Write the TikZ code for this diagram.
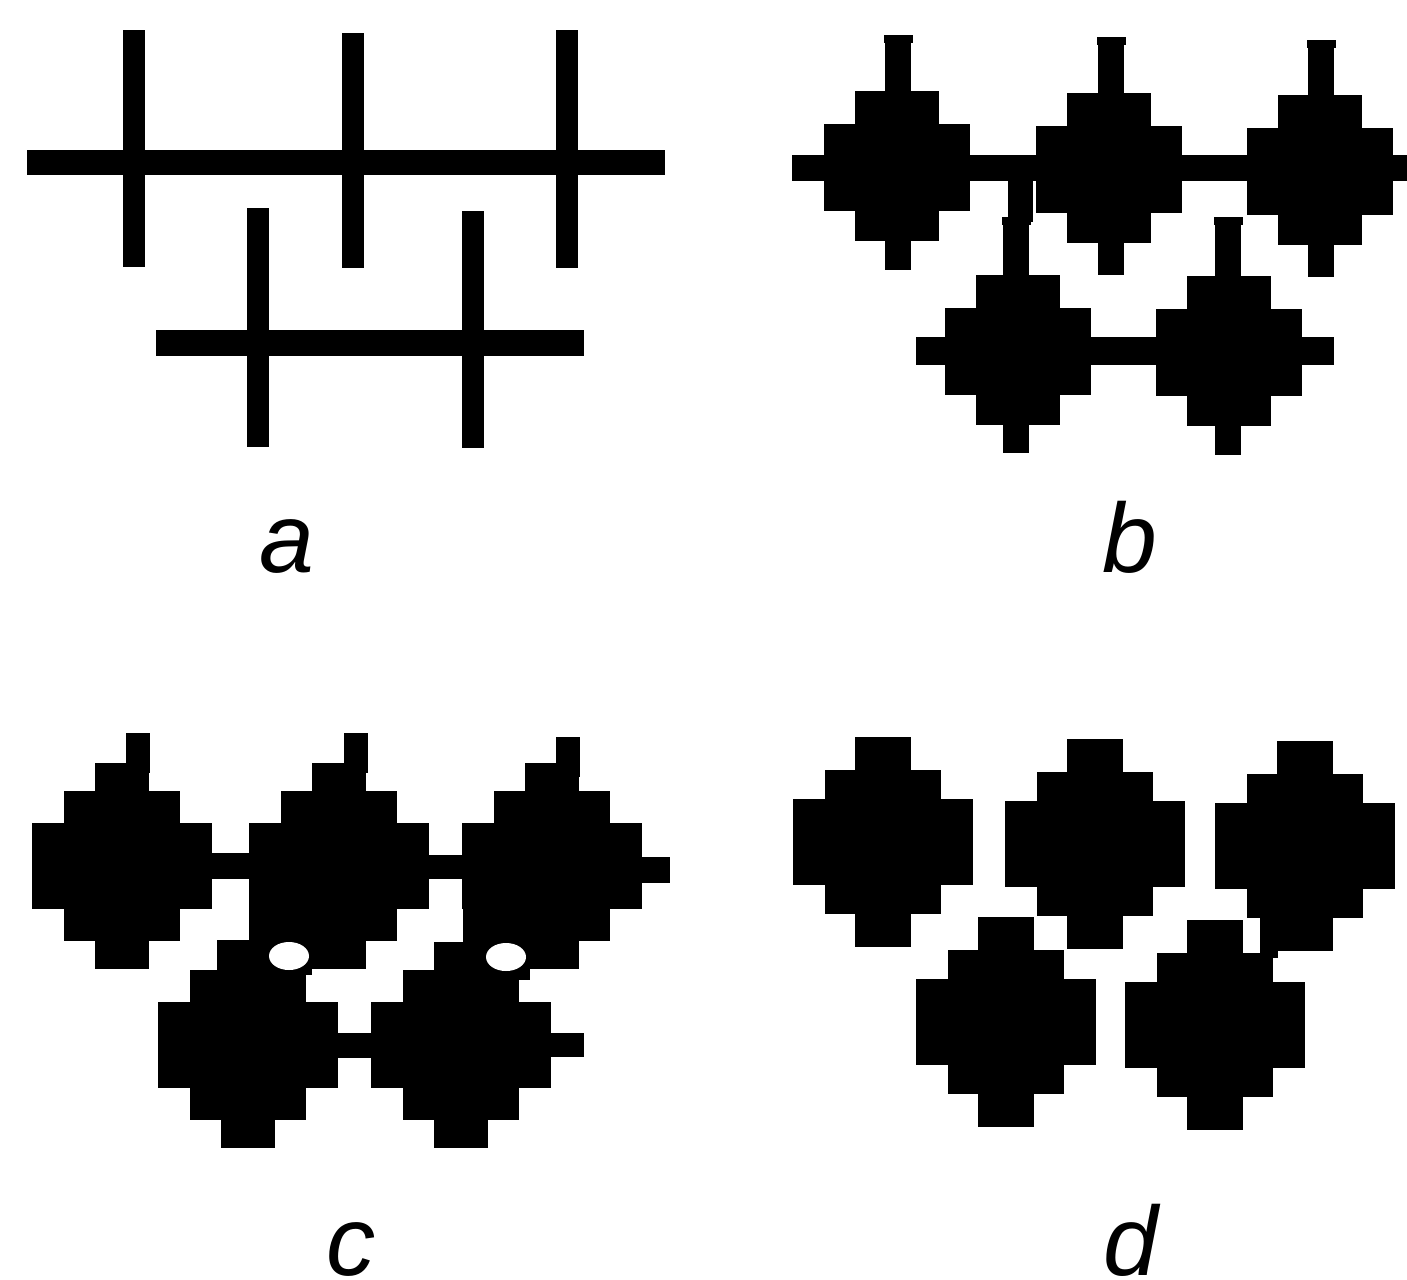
\documentclass[tikz,border=0pt]{standalone}
\usepackage{fontspec}
\setmainfont{Liberation Sans}
\begin{document}
\begin{tikzpicture}[x=0.02cm, y=-0.02cm, panellabel/.style={anchor=base, inner sep=0pt, font=\fontsize{56}{64}\selectfont\itshape}]
	\useasboundingbox (0,0) rectangle (1407,1279);
	\fill[white] (0,0) rectangle (1407,1279);
	
	\fill (27,150) rectangle (665,175);
	\fill (156,330) rectangle (584,356);
	\foreach \x/\t/\b in {134/30/267, 353/33/268, 567/30/268, 258/208/447, 473/211/448}{
		\fill ({\x-11},\t) rectangle ({\x+11},\b);
	}
	
	\fill (792,155) rectangle (1407,181);
	\fill (916,337) rectangle (1334,365);
	\fill (1008,178) rectangle (1033,222);
	\foreach \x/\t/\b in {898/35/270, 1111/37/275, 1321/40/277, 1016/217/453, 1228/217/455}{
		\fill ({\x-13},\t) rectangle ({\x+13},\b);
		\fill ({\x-14.5},\t) rectangle ({\x+14.5},{\t+8});
	}
	\foreach \x/\y in {897/166, 1109/168, 1320/170, 1018/350, 1229/351}{
		\fill ({\x-42},{\y-75}) rectangle ({\x+42},{\y+75});
		\fill ({\x-73},{\y-42}) rectangle ({\x+73},{\y+45});
	}
	
	\foreach \x/\t in {138/733, 356/733, 568/737}{
		\fill ({\x-12},\t) rectangle ({\x+12},{\t+40});
	}
	\fill (205,853) rectangle (255,879);
	\fill (425,855) rectangle (470,879);
	\fill (630,857) rectangle (670,883);
	\fill (330,1033) rectangle (380,1058);
	\fill (540,1033) rectangle (584,1057);
	\fill (249,900) rectangle (312,975);
	\fill (217,940) rectangle (312,975);
	\fill (463,900) rectangle (530,980);
	\foreach \x/\y in {122/866, 339/866, 552/866, 248/1045, 461/1045}{
		\fill ({\x-27},{\y-103}) rectangle ({\x+27},{\y+103});
		\fill ({\x-58},{\y-75}) rectangle ({\x+58},{\y+75});
		\fill ({\x-90},{\y-43}) rectangle ({\x+90},{\y+43});
	}
	\fill[white] (289,956) ellipse [x radius=20, y radius=14];
	\fill[white] (506,957) ellipse [x radius=20, y radius=14];
	
	\fill (1260,912) rectangle (1278,958);
	\foreach \x/\y in {883/842, 1095/844, 1305/846, 1006/1022, 1215/1025}{
		\fill ({\x-28},{\y-105}) rectangle ({\x+28},{\y+105});
		\fill ({\x-58},{\y-72}) rectangle ({\x+58},{\y+72});
		\fill ({\x-90},{\y-43}) rectangle ({\x+90},{\y+43});
	}
	
	\node[panellabel] (la) at (287,572) {a};
	\node[panellabel] (lb) at (1130,572) {b};
	\node[panellabel] (lc) at (351,1275) {c};
	\node[panellabel] (ld) at (1131,1275) {d};
\end{tikzpicture}
\end{document}
